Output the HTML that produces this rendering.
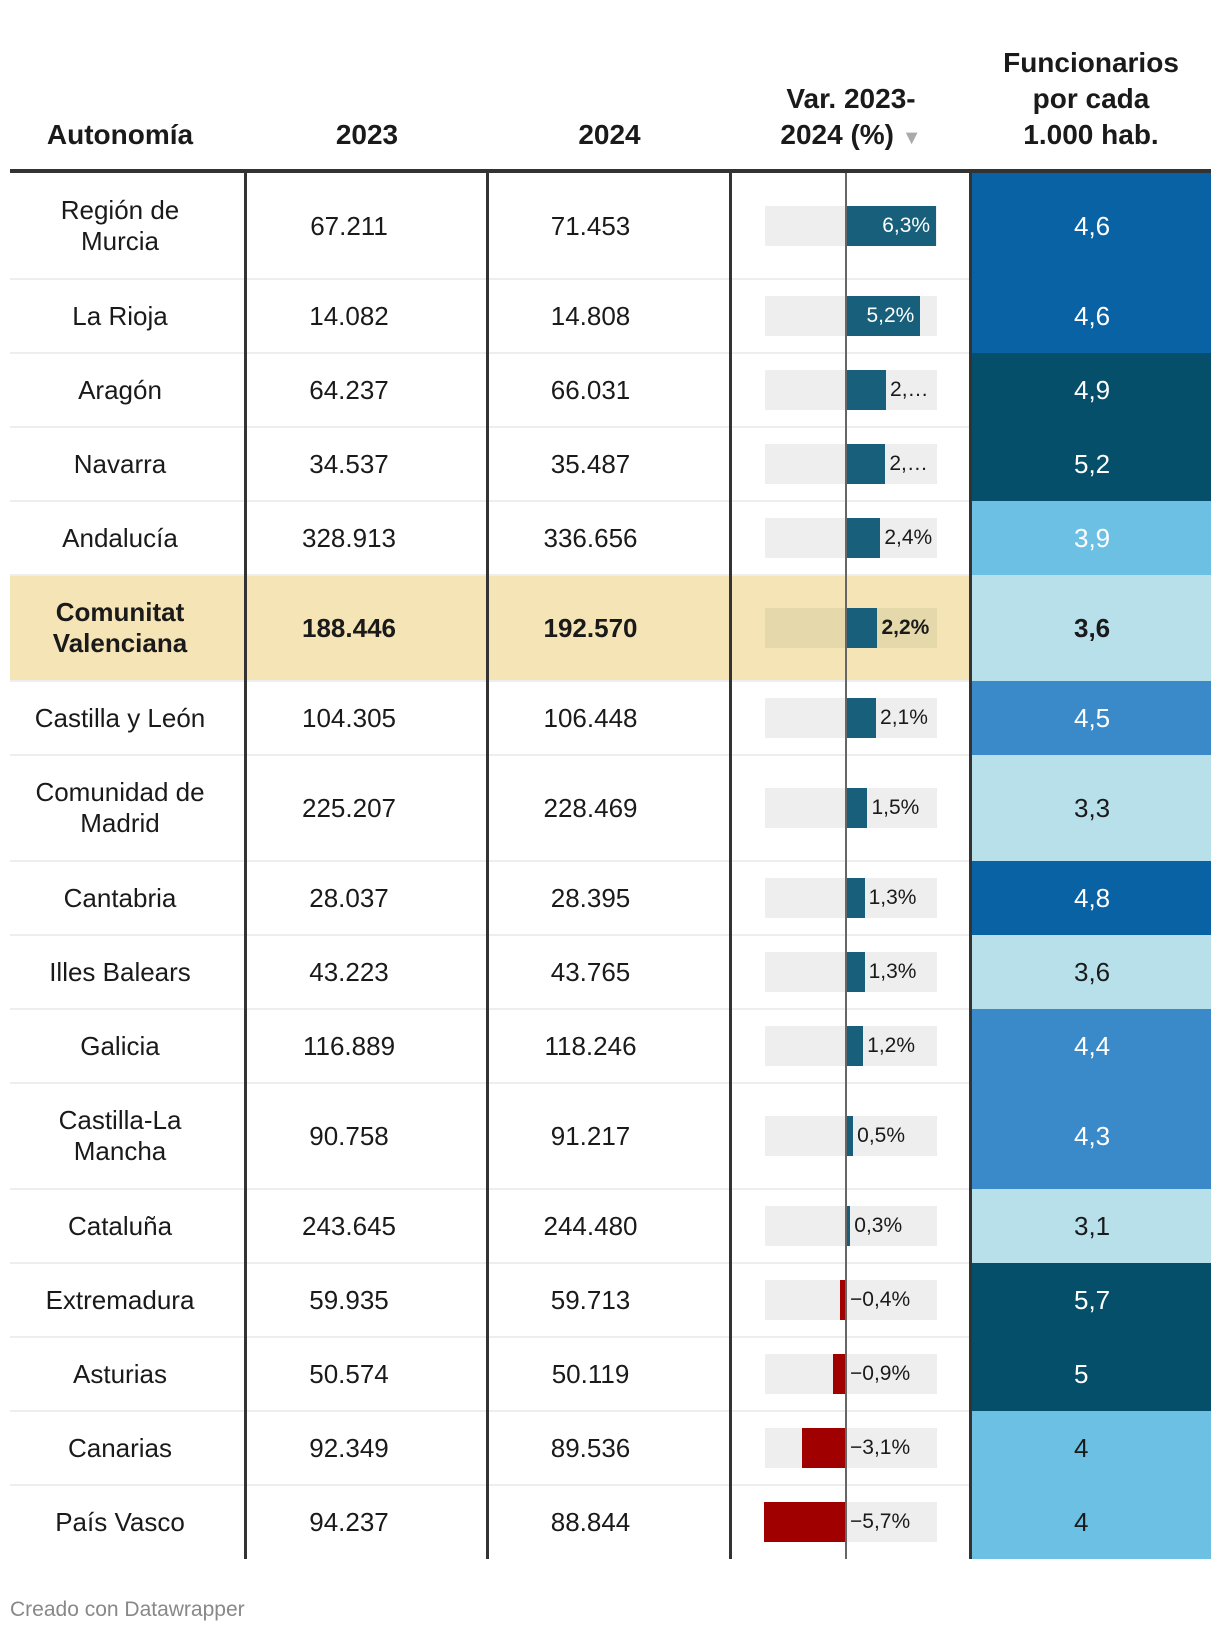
<!DOCTYPE html>
<html><head><meta charset="utf-8">
<style>
body{margin:0;background:#fff;width:1220px;height:1634px;position:relative;overflow:hidden;font-family:"Liberation Sans",sans-serif;color:#1a1a1a}
.a{position:absolute}
.h{font-weight:bold;font-size:28px;text-align:center;line-height:36px}
.c{display:flex;align-items:center;justify-content:center;text-align:center;font-size:26px;line-height:31px}
</style></head><body>
<div class="a h" style="left:0px;width:240px;top:117px">Autonomía</div>
<div class="a h" style="left:246px;width:242px;top:117px">2023</div>
<div class="a h" style="left:488px;width:243px;top:117px">2024</div>
<div class="a h" style="left:731px;width:240px;top:81px">Var. 2023-<br>2024 (%) <span style="color:#aaa;font-size:20px">▼</span></div>
<div class="a h" style="left:971px;width:240px;top:45px">Funcionarios<br>por cada<br>1.000 hab.</div>
<div class="a" style="left:10px;width:1201px;top:169px;height:4px;background:#333"></div>
<div id="t"></div>
<div class="a" style="left:10px;top:1598px;font-size:21px;color:#888">Creado con Datawrapper</div>
<script>
const names=["Región de<br>Murcia","La Rioja","Aragón","Navarra","Andalucía","Comunitat<br>Valenciana","Castilla y León","Comunidad de<br>Madrid","Cantabria","Illes Balears","Galicia","Castilla-La<br>Mancha","Cataluña","Extremadura","Asturias","Canarias","País Vasco"];
const v2023=["67.211","14.082","64.237","34.537","328.913","188.446","104.305","225.207","28.037","43.223","116.889","90.758","243.645","59.935","50.574","92.349","94.237"];
const v2024=["71.453","14.808","66.031","35.487","336.656","192.570","106.448","228.469","28.395","43.765","118.246","91.217","244.480","59.713","50.119","89.536","88.844"];
const variation=[6.3,5.2,2.8,2.75,2.4,2.2,2.1,1.5,1.3,1.3,1.2,0.5,0.3,-0.4,-0.9,-3.1,-5.7];
const varLabels=["6,3%","5,2%","2,…","2,…","2,4%","2,2%","2,1%","1,5%","1,3%","1,3%","1,2%","0,5%","0,3%","−0,4%","−0,9%","−3,1%","−5,7%"];
const perK=[4.6,4.6,4.9,5.2,3.9,3.6,4.5,3.3,4.8,3.6,4.4,4.3,3.1,5.7,5,4,4];
const perKLabels=["4,6","4,6","4,9","5,2","3,9","3,6","4,5","3,3","4,8","3,6","4,4","4,3","3,1","5,7","5","4","4"];
const X0=846,PX=14.3;
function x(v){return X0+v*PX;}
function heat(v){if(v>=4.9)return"#054f6a";if(v>=4.6)return"#0862a4";if(v>=4.1)return"#3a8ac9";if(v>=3.8)return"#6cc0e4";return"#b7e0ea";}
function txt(v){return (v<3.7||v===4)?'#1a1a1a':'#fff';}
const t=document.getElementById('t');let y=173;
function add(html,name,inter){const d=document.createElement('div');d.innerHTML=html;const e=d.firstChild;


t.appendChild(e);return e;}
names.forEach((n,i)=>{
 const h=n.includes('<br>')?106:74;const hl=i===5;const fw=hl?'bold':'normal';
 if(hl)add(`<div class="a" style="left:10px;top:${y}px;width:961px;height:${h}px;background:#f5e4b5"></div>`,'highlight-row','false');
 add(`<div class="a c" style="left:0px;width:240px;top:${y}px;height:${h}px;font-weight:${fw}">${n}</div>`,'row-name','false');
 add(`<div class="a c" style="left:228px;width:242px;top:${y}px;height:${h}px;font-weight:${fw}">${v2023[i]}</div>`,'value-2023','false');
 add(`<div class="a c" style="left:469px;width:243px;top:${y}px;height:${h}px;font-weight:${fw}">${v2024[i]}</div>`,'value-2024','false');
 const by=y+h/2-20;
 add(`<div class="a" style="left:765px;width:172px;top:${by}px;height:40px;background:${hl?'#e5d8ab':'#eeeeee'}"></div>`,'bar-background','false');
 const v=variation[i];const l=Math.min(x(0),x(v)),w=Math.abs(x(v)-x(0));
 add(`<div class="a" style="left:${l}px;width:${w}px;top:${by}px;height:40px;background:${v>=0?'#175f7a':'#a00000'}"></div>`,'bar-variation','false');
 const inside=v>4;
 if(inside)add(`<div class="a" style="left:${x(v)-70}px;width:64px;text-align:right;top:${by+8}px;font-size:21px;color:#fff">${varLabels[i]}</div>`,'bar-label','false');
 else add(`<div class="a" style="left:${Math.max(x(v),x(0))+4}px;top:${by+8}px;font-size:21px;font-weight:${fw}">${varLabels[i]}</div>`,'bar-label','false');
 add(`<div class="a" style="left:971px;width:240px;top:${y}px;height:${h}px;background:${heat(perK[i])}"></div>`,'heat-cell','false');
 add(`<div class="a" style="left:1074px;top:${y+h/2-15}px;font-size:26px;line-height:30px;color:${txt(perK[i])};font-weight:${fw}">${perKLabels[i]}</div>`,'heat-label','false');
 if(i>0)add(`<div class="a" style="left:10px;width:961px;top:${y-1}px;height:2px;background:#eee"></div>`,'row-divider','false');
 y+=h;});
[244,486,729,969].forEach(xx=>add(`<div class="a" style="left:${xx}px;top:173px;width:3px;height:${y-173}px;background:#333"></div>`,'column-divider','false'));
add(`<div class="a" style="left:${X0-1}px;top:173px;width:2px;height:${y-173}px;background:#666"></div>`,'zero-line','false');
</script>
</body></html>
